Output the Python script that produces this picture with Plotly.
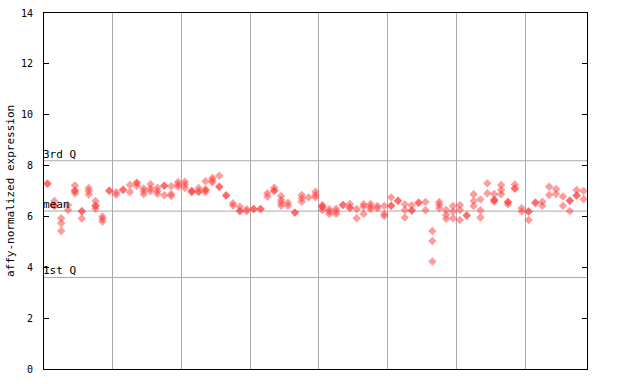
import plotly.graph_objects as go

# replicate values per sample (index = sample order along x); duplicated values render as solid diamonds
sample_values = [
    [7.29, 7.29], [6.61, 6.42, 6.42], [5.93, 5.73, 5.43], [6.45, 6.25], [7.22, 7.01, 7.01, 6.91],
    [6.2, 6.2, 5.92], [7.12, 7.0, 6.86], [6.61, 6.42, 6.42, 6.3], [6.0, 5.9, 5.8], [7.01, 7.01],
    [6.95, 6.85], [7.05, 7.05], [7.24, 6.96], [7.32, 7.32, 7.2], [7.1, 7.0, 6.87],
    [7.27, 7.1, 6.99], [7.13, 7.0, 6.89], [7.21, 7.21, 6.83], [7.19, 6.88, 6.8], [7.35, 7.25, 7.17],
    [7.36, 7.25, 7.12], [7.0, 7.0, 6.95], [7.12, 6.97, 6.97], [7.38, 7.05, 7.05, 6.96], [7.51, 7.42, 7.33],
    [7.6, 7.17, 7.17], [6.82, 6.82], [6.52, 6.42], [6.38, 6.21, 6.21], [6.28, 6.2],
    [6.29, 6.29], [6.29, 6.29], [6.91, 6.78], [7.13, 7.01, 7.01], [6.8, 6.65, 6.54, 6.42],
    [6.54, 6.42], [6.15, 6.15], [6.84, 6.71, 6.58], [6.75], [6.97, 6.84, 6.75],
    [6.45, 6.38, 6.38, 6.25], [6.28, 6.19, 6.1], [6.3, 6.19, 6.1], [6.45, 6.45], [6.49, 6.34, 6.34],
    [6.29, 5.93], [6.48, 6.38, 6.1], [6.49, 6.38, 6.29], [6.41, 6.32], [6.41, 6.1, 6.02],
    [6.75, 6.42, 6.42], [6.62, 6.62], [6.48, 6.25, 5.96], [6.44, 6.23, 6.23], [6.54, 6.54],
    [6.57, 6.24], [5.43, 5.03, 4.23], [6.57, 6.46, 6.32], [6.25, 6.06, 5.91], [6.41, 6.19, 5.93],
    [6.45, 6.25, 5.86], [6.04, 6.04], [6.87, 6.61, 6.41], [6.67, 6.24, 5.96], [7.3, 6.91],
    [6.88, 6.65, 6.65, 6.58], [7.24, 7.04, 6.87], [6.57, 6.57, 6.48], [7.26, 7.1, 7.1], [6.32, 6.19],
    [6.19, 6.19, 5.86], [6.56, 6.52], [6.58, 6.42], [7.17, 6.84], [7.08, 6.88],
    [6.78, 6.42], [6.62, 6.62, 6.21], [7.04, 6.82, 6.82], [7.0, 6.68],
]

group_bounds = [9.5, 19.5, 29.5, 39.5, 49.5, 59.5, 69.5]
quartile_names = ["3rd Q", "mean", "1st Q"]
quartile_values = [8.19, 6.21, 3.6]
y_ticks = [0, 2, 4, 6, 8, 10, 12, 14]
y_title = "affy-normalized expression"

xs, ys = [], []
for i, vals in enumerate(sample_values):
    for v in vals:
        xs.append(i)
        ys.append(v)

font_mono = "DejaVu Sans Mono, monospace"

fig = go.Figure()
fig.add_trace(go.Scatter(
    x=xs, y=ys, mode="markers",
    marker=dict(symbol="diamond", size=6.5, color="rgba(255,60,60,0.5)", line=dict(width=0)),
    hoverinfo="skip", showlegend=False,
))

for name, qv in zip(quartile_names, quartile_values):
    fig.add_shape(type="line", xref="paper", x0=0, x1=1, yref="y", y0=qv, y1=qv,
                  line=dict(color="#aaaaaa", width=1), layer="below")
    fig.add_annotation(xref="paper", x=0, yref="y", y=qv, text=name, showarrow=False,
                       xanchor="left", yanchor="bottom", yshift=-2, xshift=-3,
                       font=dict(family=font_mono, size=11, color="black"))

fig.add_annotation(xref="paper", x=0, xshift=-34, xanchor="center", yref="paper", y=0.5,
                   text=y_title, textangle=-90, showarrow=False,
                   font=dict(family=font_mono, size=11, color="black"))

fig.update_layout(
    width=640, height=384,
    margin=dict(l=44, r=53, t=13, b=15, autoexpand=False),
    paper_bgcolor="white", plot_bgcolor="white",
    xaxis=dict(range=[-0.5, len(sample_values) - 0.5], tickvals=group_bounds, showticklabels=False,
               ticks="", showgrid=True, gridcolor="#aaaaaa", gridwidth=1, zeroline=False,
               showline=True, linecolor="black", linewidth=1, mirror=True, automargin=False),
    yaxis=dict(range=[0, 14], tickvals=y_ticks, ticks="inside", ticklen=5, tickcolor="black",
               showgrid=False, zeroline=False, showline=True, linecolor="black", linewidth=1,
               mirror="ticks", ticklabelstandoff=8, automargin=False, ticklabeloverflow="allow",
               tickfont=dict(family=font_mono, size=10, color="black")),
)

fig.write_html("out.html", config={"displayModeBar": False},
               post_script="document.body.style.margin='0';")
